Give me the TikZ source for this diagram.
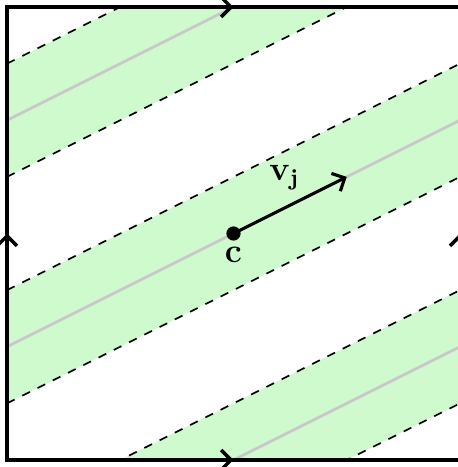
\documentclass[tikz,border=0pt]{standalone}
\usepackage{amsmath, amssymb}
\usepackage{xcolor}
\usepackage{tikz}
\usetikzlibrary{arrows.meta, positioning, calc}
\definecolor{stripgreen}{RGB}{206, 250, 206}
\definecolor{axisgray}{RGB}{200, 200, 200}

\begin{document}
\begin{tikzpicture}[x=1.4cm, y=1.4cm, >={Straight Barb[length=3.5pt, width=7pt]},
    border/.style={line width=1.2pt, line cap=rect},
    strip/.style={fill=stripgreen, draw=none},
    midline/.style={axisgray, line width=1pt},
    edgeline/.style={dashed, semithick},
    vlabel/.style={font=\large, inner sep=1pt}]

  \useasboundingbox (-0.062,-0.062) rectangle (3.982,4.062);

  % --- corners and centre ---
  \coordinate (sw) at (0,0);
  \coordinate (se) at (4,0);
  \coordinate (ne) at (4,4);
  \coordinate (nw) at (0,4);
  \coordinate (c) at (2,2);
  \coordinate (vtip) at ($(c)+(1,0.5)$);
  \coordinate (vmid) at ($(c)!0.45!(vtip)$);

  % --- strips round the closed geodesics ---
  \begin{scope}
    \clip (sw) rectangle (ne);
    \foreach \k in {-1,1,3} {
      \fill[strip] (0,\k-0.5) -- (4,\k+1.5) -- (4,\k+2.5) -- (0,\k+0.5) -- cycle;
    }
    \foreach \k in {-1,1,3} {
      \draw[midline] (0,\k) -- (4,\k+2);
      \draw[edgeline] (0,\k-0.5) -- (4,\k+1.5);
      \draw[edgeline] (0,\k+0.5) -- (4,\k+2.5);
    }
  \end{scope}

  % --- identified sides ---
  \coordinate (bm) at ($(sw)!0.5!(se)$);
  \coordinate (tm) at ($(nw)!0.5!(ne)$);
  \coordinate (lm) at ($(sw)!0.5!(nw)$);
  \coordinate (rm) at ($(se)!0.5!(ne)$);
  \draw[border, ->] (sw) -- (bm);
  \draw[border] (bm) -- (se);
  \draw[border, ->] (nw) -- (tm);
  \draw[border] (tm) -- (ne);
  \draw[border, ->] (sw) -- (lm);
  \draw[border] (lm) -- (nw);
  \draw[border, ->] (se) -- (rm);
  \draw[border] (rm) -- (ne);

  % --- direction vector at c ---
  \draw[->, line width=1.1pt] (c) -- (vtip);
  \fill (c) circle (2.5pt);
  \node[vlabel, below=3.5pt of c] (clabel) {$\mathbf{c}$};
  \node[vlabel, above=5pt of vmid] (vjlabel) {$\mathbf{v_j}$};

\end{tikzpicture}
\end{document}
